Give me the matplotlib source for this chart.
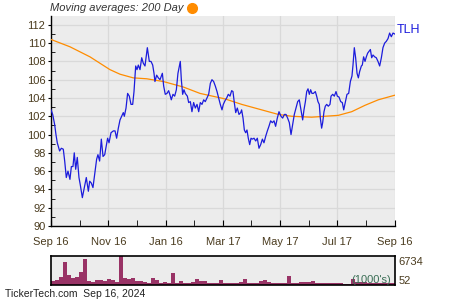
import numpy as np
import matplotlib
matplotlib.use("Agg")
import matplotlib.pyplot as plt
import matplotlib.dates as mdates
from datetime import datetime, timedelta

plt.rcParams['font.family'] = ['Liberation Sans', 'DejaVu Sans']

start = datetime(2023, 9, 16)

# TLH closing prices, day offsets from start
price_day = [0, 1.8, 3.9, 5.3, 6.7, 9.2, 11.0, 13.1, 14.6, 16.3, 18.1, 20.2, 21.7, 23.4, 24.8, 26.3,
             28.0, 29.8, 31.2, 33.4, 35.9, 37.6, 39.8, 41.2, 42.9, 44.7, 46.5, 48.6, 50.0, 51.8, 53.6,
             55.4, 57.2, 60.3, 61.8, 63.9, 66.4, 68.2, 69.9, 71.7, 73.5, 75.3, 77.0, 78.1, 79.9, 81.6,
             83.4, 85.2, 87.0, 88.4, 90.2, 91.6, 93.0, 94.8, 96.6, 98.3, 100.1, 102.6, 104.7, 106.5,
             108.3, 109.7, 110.7, 112.5, 114.3, 116.1, 118.6, 120.0, 121.7, 123.5, 125.3, 127.1, 128.1,
             129.9, 131.7, 133.5, 135.2, 137.7, 138.8, 140.2, 141.6, 143.0, 145.2, 146.6, 148.4, 150.1,
             151.9, 153.7, 155.5, 157.3, 159.0, 160.8, 162.6, 164.3, 166.1, 167.9, 169.7, 171.4, 173.2,
             175.0, 176.8, 178.6, 180.3, 182.1, 183.5, 185.3, 187.1, 188.8, 190.6, 192.4, 193.8, 195.2,
             196.7, 198.4, 200.2, 202.0, 203.0, 204.5, 205.9, 207.3, 208.7, 210.1, 211.6, 213.0, 214.4,
             216.2, 218.0, 219.7, 221.5, 223.3, 225.1, 226.8, 228.6, 230.4, 232.1, 233.9, 235.7, 237.5,
             239.2, 241.0, 242.8, 244.9, 246.7, 248.5, 250.3, 252.0, 253.8, 255.6, 257.4, 259.1, 260.9,
             262.7, 264.4, 266.2, 268.0, 269.4, 270.9, 272.3, 273.7, 275.1, 276.5, 277.9, 279.4, 281.5,
             282.9, 284.3, 285.7, 286.8, 288.2, 289.3, 290.7, 292.1, 293.6, 295.3, 297.1, 298.2, 300.0,
             301.7, 303.5, 304.9, 306.7, 308.5, 310.2, 311.7, 313.4, 315.2, 317.0, 318.8, 320.5, 321.6,
             323.0, 324.4, 325.9, 327.3, 328.7, 330.5, 331.5, 332.9, 334.4, 335.8, 337.2, 338.6, 340.1,
             341.5, 342.9, 344.7, 346.4, 348.2, 350.0, 351.8, 353.5, 355.3, 357.1, 358.9, 360.6, 362.4,
             364.2, 366.0]
price = [102.7, 102.2, 101.1, 100.0, 99.1, 98.2, 98.5, 98.4, 97.1, 95.3, 96.0, 95.1, 96.5, 96.5, 98.0, 96.2,
         97.5, 95.3, 94.5, 93.1, 94.4, 95.3, 93.8, 94.9, 94.7, 94.2, 95.6, 97.3, 97.8, 97.1, 99.5,
         97.6, 97.8, 99.6, 99.1, 100.2, 100.4, 100.4, 99.6, 100.7, 101.6, 102.0, 102.4, 102.0, 102.9, 104.5,
         104.2, 103.3, 103.3, 104.7, 107.5, 107.1, 107.6, 107.1, 108.4, 107.8, 107.5, 109.5, 108.0, 108.0,
         107.6, 106.7, 105.8, 106.5, 106.2, 106.0, 106.7, 105.3, 104.4, 104.5, 104.8, 104.2, 103.8,
         104.4, 104.2, 104.9, 106.7, 108.0, 106.0, 104.4, 104.9, 104.5, 104.2, 103.5, 103.6, 102.5,
         103.5, 102.9, 103.3, 102.5, 103.5, 103.3, 103.8, 103.6, 104.0, 104.4, 105.6, 106.0, 105.8,
         105.3, 104.7, 104.0, 103.3, 102.7, 103.3, 103.7, 104.0, 104.4, 104.2, 104.8, 104.7, 103.5,
         102.4, 102.9, 102.2, 102.4, 102.7, 101.8, 100.5, 100.2, 100.5, 99.6, 98.9, 99.6, 99.5,
         99.6, 99.3, 99.6, 98.5, 98.9, 99.5, 99.1, 99.8, 100.4, 100.9, 101.5, 101.3, 101.5,
         100.9, 101.8, 102.5, 102.0, 101.8, 102.2, 102.2, 101.8, 101.3, 100.0, 101.1, 102.2, 102.9,
         103.6, 103.8, 102.7, 101.6, 102.7, 103.6, 104.7, 105.0, 104.4, 104.9, 104.5, 104.5, 104.7,
         104.2, 103.6, 103.3, 101.8, 100.7, 101.3, 102.5, 103.1, 103.3, 103.1, 103.3, 104.2, 104.4,
         104.2, 104.7, 104.2, 104.1, 103.6, 103.5, 102.7, 103.5, 104.4, 104.5, 105.8, 106.4, 107.6,
         109.5, 108.4, 106.7, 106.2, 106.9, 107.5, 107.6, 108.5, 108.0, 108.5, 108.9, 109.1, 109.3,
         108.4, 108.7, 108.5, 108.4, 108.0, 107.5, 108.4, 109.5, 110.0, 110.2, 110.5, 111.1, 110.7,
         111.1, 111.0]

# 200 day moving average
ma_day = [0, 20.2, 41.5, 62.8, 73.5, 87.6, 101.9, 119.6, 140.9, 158.7, 185.3, 203.1, 220.8,
          242.1, 256.3, 277.6, 291.8, 305.9, 320.2, 334.4, 348.5, 366.0]
ma = [110.4, 109.6, 108.5, 107.1, 106.6, 106.2, 106.1, 105.8, 105.2, 104.5, 103.9, 103.3, 102.8,
      102.2, 102.0, 101.9, 102.0, 102.1, 102.5, 103.2, 103.8, 104.3]

# volume (1000's), one bar per ~4.26 days
volume = [860, 1100, 1900, 5300, 2260, 1500, 1900, 2900, 6000, 940, 700, 1100, 1100, 940, 1250, 1100,
          700, 6734, 1700, 1400, 1500, 860, 860, 620, 470, 1500, 1100, 310, 620, 390, 2700, 390,
          940, 390, 390, 620, 1250, 900, 900, 310, 310, 390, 1100, 310, 470, 470, 470, 620, 1250,
          470, 470, 470, 860, 1000, 700, 310, 310, 310, 310, 2000, 310, 310, 700, 550, 550, 940,
          470, 470, 390, 390, 390, 390, 390, 230, 230, 1250, 620, 620, 620, 500, 500, 500, 500,
          500, 500, 500]

major_dates = [datetime(2023, 9, 16), datetime(2023, 11, 16), datetime(2024, 1, 16), datetime(2024, 3, 17),
               datetime(2024, 5, 17), datetime(2024, 7, 17), datetime(2024, 9, 16)]
major_labels = ['Sep 16', 'Nov 16', 'Jan 16', 'Mar 17', 'May 17', 'Jul 17', 'Sep 16']

txt = '#4a3b1e'
grid_c = '#d9d9d9'
bg = '#ececec'

px = [start + timedelta(days=d) for d in price_day]
mx = [start + timedelta(days=d) for d in ma_day]
end = start + timedelta(days=366)

fig = plt.figure(figsize=(4.5, 3), dpi=100)
ax = fig.add_axes([0.1133, 0.2467, 0.7638, 0.701])
ax.set_facecolor(bg)
ax.plot(mx, ma, color='#ff8c00', lw=0.9, zorder=3)
ax.plot(px, price, color='#1c1cdc', lw=0.9, zorder=4)
ax.set_xlim(start, end)
ax.set_ylim(90, 113.0)

ax.set_yticks(np.arange(90, 113, 2))
ax.set_yticks(np.arange(91, 113, 2), minor=True)
ax.set_xticks(mdates.date2num(major_dates))
ax.set_xticklabels(major_labels)
mids = [(mdates.date2num(major_dates[i]) + mdates.date2num(major_dates[i + 1])) / 2 for i in range(6)]
ax.set_xticks(mids, minor=True)
ax.grid(True, which='major', color=grid_c, lw=0.9, zorder=0)
ax.set_axisbelow(True)
for s in ['top', 'right']:
    ax.spines[s].set_visible(False)
for s in ['left', 'bottom']:
    ax.spines[s].set_color('black')
    ax.spines[s].set_linewidth(1)
ax.tick_params(axis='y', which='major', direction='out', length=2, labelsize=8, labelcolor=txt, pad=2)
ax.tick_params(axis='y', which='minor', direction='in', length=3)
ax.tick_params(axis='x', which='both', direction='in', length=4, labelsize=8, labelcolor=txt, pad=8)

ax.text(1.007, 0.93, 'TLH', transform=ax.transAxes, color='#1c1cdc', fontsize=9, va='center', ha='left')

fig.text(0.111, 0.973, 'Moving averages: 200 Day', fontsize=8, style='italic', color='#333333',
         va='center', ha='left')
fig.lines.append(matplotlib.lines.Line2D([191.7 / 450], [1 - 7.5 / 300], marker='o', ms=7,
                                         color='#ff8c00', transform=fig.transFigure))

# volume panel
vax = fig.add_axes([0.1133, 0.051, 0.7638, 0.0947])
vax.set_facecolor(bg)
step = 366 / len(volume)
vx = [start + timedelta(days=step * (i + 0.5)) for i in range(len(volume))]
vax.bar(vx, volume, width=step, color='#993366', lw=0)
vax.set_xlim(start, end)
vax.set_ylim(0, 6734)
vax.set_xticks([])
vax.set_yticks([])
for s in vax.spines.values():
    s.set_color('black')
    s.set_linewidth(1.2)
vax.text(1.01, 0.8, '6734', transform=vax.transAxes, fontsize=8, color=txt, va='center', ha='left')
vax.text(1.01, 0.12, '52', transform=vax.transAxes, fontsize=8, color=txt, va='center', ha='left')
vax.text(0.99, 0.15, "(1000's)", transform=vax.transAxes, fontsize=8, color='#3a6e55', va='center',
         ha='right')

fig.text(0.011, 0.02, 'TickerTech.com  Sep 16, 2024', fontsize=7.5, color='#222222', va='center', ha='left')

fig.savefig('out.png', dpi=100)
